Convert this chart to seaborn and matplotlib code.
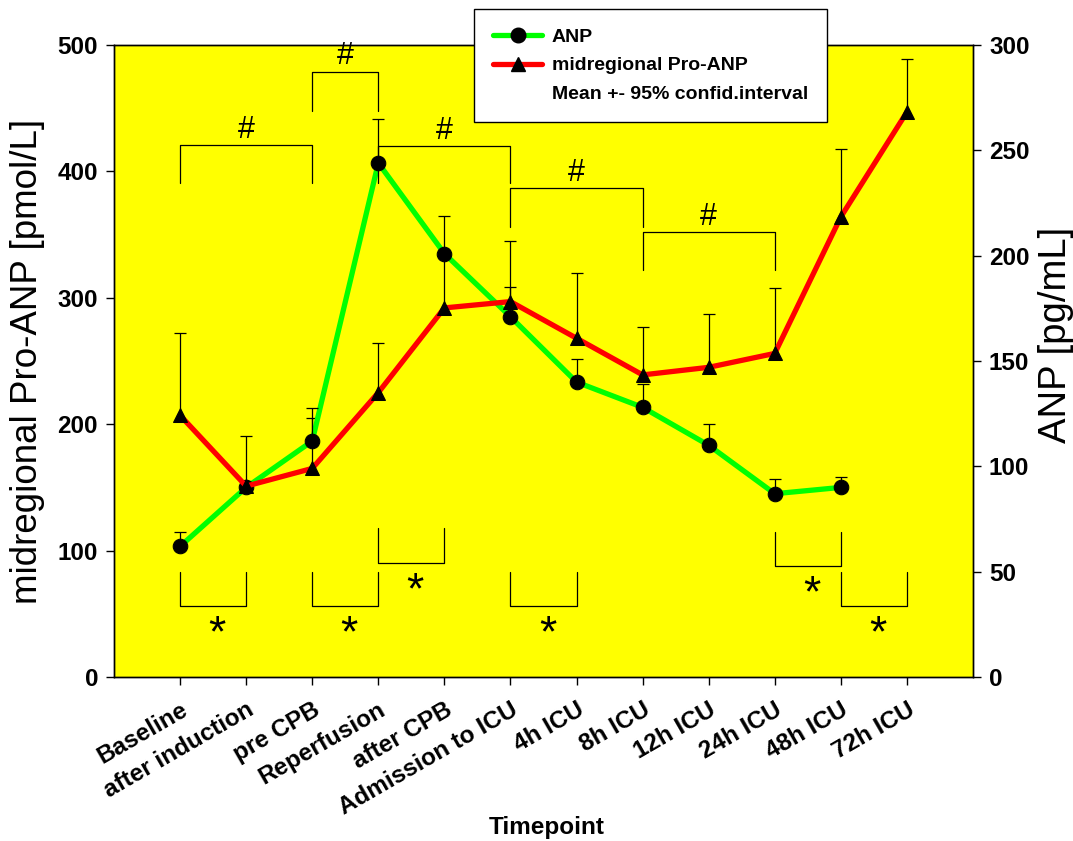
import numpy as np
import pandas as pd
import matplotlib
matplotlib.use("Agg")
import matplotlib.pyplot as plt
from matplotlib.lines import Line2D
import seaborn as sns

# ---- data -------------------------------------------------------------
timepoints = ["Baseline", "after induction", "pre CPB", "Reperfusion", "after CPB",
              "Admission to ICU", "4h ICU", "8h ICU", "12h ICU", "24h ICU",
              "48h ICU", "72h ICU"]

# ANP [pg/mL] (right axis): mean and upper limit of the 95% CI
anp_mean = [62, 90, 112, 244, 201, 171, 140, 128, 110, 87, 90, np.nan]
anp_upper = [69, np.nan, 123, 265, np.nan, 185, 151, 139, 120, 94, 95, np.nan]

# midregional Pro-ANP [pmol/L] (left axis): mean and upper limit of the 95% CI
mrproanp_mean = [207, 151, 165, 225, 292, 297, 268, 239, 245, 256, 364, 447]
mrproanp_upper = [272, 191, 213, 264, 365, 345, 320, 277, 287, 308, 418, 489]

# significance brackets: (first timepoint, second timepoint, bar level, leg end) in pmol/L
hash_brackets = [(0, 2, 421, 391), (2, 3, 479, 448), (3, 5, 420, 391),
                 (5, 7, 387, 356), (7, 9, 352, 322)]
star_brackets = [(0, 1, 56, 83), (2, 3, 56, 83), (3, 4, 90, 118),
                 (5, 6, 56, 83), (9, 10, 88, 115), (10, 11, 56, 83)]

# ---- style ------------------------------------------------------------
sns.set_style("ticks")
plt.rcParams["font.family"] = ["Liberation Sans", "DejaVu Sans"]
plt.rcParams.update({"text.color": "black", "axes.labelcolor": "black",
                     "xtick.color": "black", "ytick.color": "black"})

GREEN = "#00ff00"
RED = "#ff0000"
YELLOW = "#ffff00"

W, H = 1073, 841
fig = plt.figure(figsize=(W / 100, H / 100), dpi=100)
ax = fig.add_axes([114 / W, 1 - 677 / H, 859 / W, 632 / H])
ax2 = ax.twinx()

# left axis (Pro-ANP) drawn above the right axis (ANP); background on the lower one
ax.set_zorder(ax2.get_zorder() + 1)
ax.patch.set_visible(False)
ax2.patch.set_visible(True)
ax2.patch.set_facecolor(YELLOW)

x = np.arange(len(timepoints))
df = pd.DataFrame({"t": x, "anp": anp_mean, "mr": mrproanp_mean})

# ---- error bars (upper half of the CI only) ---------------------------
def upper_bars(axis, mean, upper):
    mean = np.asarray(mean, float)
    upper = np.asarray(upper, float)
    err = upper - mean
    _, caps, _ = axis.errorbar(x, mean, yerr=[np.zeros_like(err), err], fmt="none",
                               ecolor="black", elinewidth=0.9, capsize=4.6,
                               capthick=0.9, zorder=2)
    caps[0].set_visible(False)

upper_bars(ax2, anp_mean, anp_upper)
upper_bars(ax, mrproanp_mean, mrproanp_upper)

# ---- lines ------------------------------------------------------------
sns.lineplot(data=df, x="t", y="anp", ax=ax2, color=GREEN, linewidth=3.8,
             marker="o", markersize=10.5, markerfacecolor="black",
             markeredgecolor="black", errorbar=None, zorder=3)
sns.lineplot(data=df, x="t", y="mr", ax=ax, color=RED, linewidth=3.8,
             marker="^", markersize=10.5, markerfacecolor="black",
             markeredgecolor="black", errorbar=None, zorder=3)

# ---- significance brackets -------------------------------------------
for a, b, bar, leg in hash_brackets:
    ax.plot([a, a, b, b], [leg, bar, bar, leg], color="black", lw=0.9, zorder=2)
    ax.text((a + b) / 2, bar + 12, "#", ha="center", va="center",
            fontsize=22, color="black")
for a, b, bar, leg in star_brackets:
    ax.plot([a, a, b, b], [leg, bar, bar, leg], color="black", lw=0.9, zorder=2)
    ax.text((a + b) / 2 + 0.06, bar - 23, "*", ha="center", va="center",
            fontsize=32, color="black")

# ---- axes -------------------------------------------------------------
ax.set_xlim(-1, 12)
ax.set_ylim(0, 500)
ax2.set_ylim(0, 300)
ax.set_xticks(x)
ax.set_xticklabels(timepoints, rotation=30, ha="right", va="top",
                   rotation_mode="anchor", fontweight="bold", fontsize=17.5)
ax.set_yticks(range(0, 501, 100))
ax2.set_yticks(range(0, 301, 50))
for lab in ax.get_yticklabels() + ax2.get_yticklabels():
    lab.set_fontweight("bold")
    lab.set_fontsize(17.5)

ax.tick_params(axis="x", direction="out", length=6, width=1, pad=9, colors="black")
ax.tick_params(axis="y", direction="out", length=5.5, width=1, pad=6, colors="black",
               left=True)
ax2.tick_params(axis="y", direction="out", length=5.5, width=1, pad=6, colors="black",
                right=True)

for axis in (ax, ax2):
    for sp in axis.spines.values():
        sp.set_visible(True)
        sp.set_color("black")
        sp.set_linewidth(1.0)

ax.set_ylabel("midregional Pro-ANP [pmol/L]", fontsize=26.5, color="black")
ax.yaxis.set_label_coords(-0.080, 0.5)
ax2.set_ylabel("ANP [pg/mL]", fontsize=27.5, color="black")
ax2.yaxis.set_label_coords(1.076, 0.541)
ax.set_xlabel("Timepoint", fontsize=17.5, fontweight="bold", color="black")
ax.xaxis.set_label_coords(0.504, -0.220)

# ---- legend -----------------------------------------------------------
handles = [
    Line2D([], [], color=GREEN, lw=3.8, marker="o", markersize=10.5,
           markerfacecolor="black", markeredgecolor="black"),
    Line2D([], [], color=RED, lw=3.8, marker="^", markersize=10.5,
           markerfacecolor="black", markeredgecolor="black"),
    Line2D([], [], linestyle="none"),
]
labels = ["ANP", "midregional Pro-ANP", "Mean +- 95% confid.interval"]
leg = fig.legend(handles, labels, loc="upper left",
                 bbox_to_anchor=(474 / W, 1 - 9 / H), bbox_transform=fig.transFigure,
                 frameon=True, fancybox=False, edgecolor="black", framealpha=1,
                 prop={"weight": "bold", "size": 14}, handlelength=2.5,
                 handletextpad=0.5, borderpad=1.0, labelspacing=0.55, borderaxespad=0)
leg.get_frame().set_linewidth(1.0)
for t in leg.get_texts():
    t.set_color("black")

fig.savefig("out.png", dpi=100)
